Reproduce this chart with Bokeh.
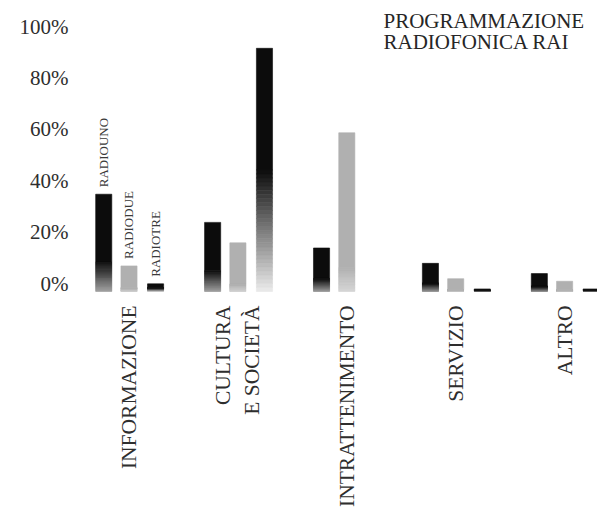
import math
from bokeh.plotting import figure
from bokeh.models import ColumnDataSource, Range1d, LinearAxis, FixedTicker, Label
from bokeh.core.properties import value
from bokeh.embed import file_html
from bokeh.resources import INLINE

# ---- data ----
categories = ["INFORMAZIONE", "CULTURA\nE SOCIETÀ", "INTRATTENIMENTO", "SERVIZIO", "ALTRO"]
stations = ["RADIOUNO", "RADIODUE", "RADIOTRE"]
radiouno = [38, 27, 17, 11, 7]
radiodue = [10, 19, 62, 5, 4]
radiotre = [3, 95, 0, 1, 1]
y_ticks = [0, 20, 40, 60, 80, 100]
y_tick_labels = ["0%", "20%", "40%", "60%", "80%", "100%"]
title_lines = ["PROGRAMMAZIONE", "RADIOFONICA RAI"]

# ---- styles ----
SERIF = "Liberation Serif"
offsets = [-0.232, 0.0, 0.244]
bar_w = 0.148
# (top colour, bottom colour, fraction of bar height that is graded)
styles = [((12, 12, 12), (160, 160, 160), 0.30),
          ((176, 176, 176), (214, 214, 214), 0.15),
          ((12, 12, 12), (236, 236, 236), 0.50)]
N_BANDS = 30

p = figure(width=597, height=509, output_backend="svg", toolbar_location=None,
           x_range=Range1d(-0.4637, 4.302), y_range=Range1d(-2.73, 113.67),
           min_border_left=78, min_border_right=0, min_border_top=0,
           min_border_bottom=211, y_axis_location=None)
p.outline_line_color = None
p.grid.visible = False
p.background_fill_color = "white"
p.border_fill_color = "white"

# y axis on an offset range so the labels sit as in the original
p.extra_y_ranges = {"lab": Range1d(-5.83, 110.12)}
yax = LinearAxis(y_range_name="lab", ticker=FixedTicker(ticks=y_ticks),
                 major_label_overrides={t: l for t, l in zip(y_ticks, y_tick_labels)},
                 axis_line_color=None, major_tick_line_color=None,
                 minor_tick_line_color=None, major_tick_out=0, major_tick_in=0,
                 major_label_standoff=10, major_label_text_font=SERIF,
                 major_label_text_font_size="21px", major_label_text_color="#2e2e2e")
p.add_layout(yax, "left")

xa = p.xaxis[0]
xa.ticker = FixedTicker(ticks=list(range(len(categories))))
xa.major_label_overrides = {i: c for i, c in enumerate(categories)}
xa.major_label_orientation = math.pi / 2
xa.axis_line_color = None
xa.major_tick_line_color = None
xa.minor_tick_line_color = None
xa.major_tick_out = 0
xa.major_tick_in = 0
xa.major_label_standoff = 7
xa.major_label_text_font = SERIF
xa.major_label_text_font_size = "21.5px"
xa.major_label_text_color = "#2e2e2e"


def hexc(c):
    return "#%02x%02x%02x" % tuple(int(round(v)) for v in c)


def mix(a, b, t):
    return tuple(a[i] * t + b[i] * (1 - t) for i in range(3))


series = [radiouno, radiodue, radiotre]
for s, vals in enumerate(series):
    top_c, bot_c, frac = styles[s]
    xs, bots, tops, cols = [], [], [], []
    for i, v in enumerate(vals):
        if v <= 0:
            continue
        x = i + offsets[s]
        g = v * frac
        xs.append(x); bots.append(g); tops.append(v); cols.append(hexc(top_c))
        for k in range(N_BANDS):
            t = (k + 0.5) / N_BANDS
            xs.append(x)
            bots.append(g * k / N_BANDS)
            tops.append(g * (k + 1) / N_BANDS)
            cols.append(hexc(mix(top_c, bot_c, t)))
    src = ColumnDataSource(dict(x=xs, bottom=bots, top=tops, color=cols))
    p.vbar(x="x", bottom="bottom", top="top", width=bar_w, source=src,
           fill_color="color", line_color="color", line_width=0.6)

# station names over the first group
first_vals = [radiouno[0], radiodue[0], radiotre[0]]
st_src = ColumnDataSource(dict(x=[0 + o for o in offsets], y=first_vals, text=stations))
p.text(x="x", y="y", text="text", source=st_src, angle=math.pi / 2,
       text_align="left", text_baseline="middle", y_offset=-7,
       text_font=value(SERIF), text_font_size="13px", text_color="#3a3a3a")

title_y = [110.18, 101.98]
for line, ty in zip(title_lines, title_y):
    p.add_layout(Label(x=2.337, y=ty, text=line,
                       text_align="left", text_baseline="top", text_font=SERIF,
                       text_font_size="21px", text_color="#262626"))

open("out.html", "w").write(file_html(p, INLINE))
